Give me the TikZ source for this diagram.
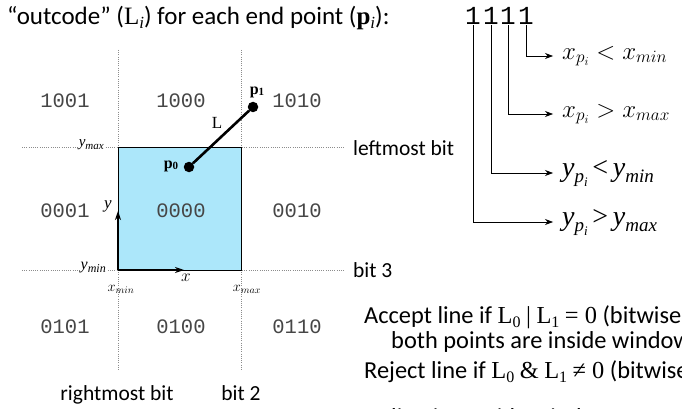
\documentclass[tikz,border=0pt]{standalone}
\usepackage{fontspec}
\setmainfont{Carlito}
\newfontfamily\tms{Liberation Serif}
\newfontfamily\mono{Liberation Mono}
\usetikzlibrary{arrows.meta}
\definecolor{winblue}{RGB}{172,231,250}
\definecolor{codegray}{RGB}{70,70,70}
% Times-style italic subscript helper: base letter, subscript, size, shift
\newcommand\tsub[4]{{\tms\itshape #1}\raisebox{#4}{\fontsize{#3}{#3}\selectfont\tms\itshape #2}}
\begin{document}
\begin{tikzpicture}[x=1pt,y=-1pt,
  grid/.style={black!45, line width=0.7pt, dash pattern=on 1pt off 1.2pt},
  code/.style={font=\mono\fontsize{20.5}{20}\selectfont, text=codegray, anchor=base, inner sep=0pt},
  lbl/.style={font=\fontsize{21.5}{24}\selectfont, inner sep=0pt},
  txt/.style={font=\fontsize{24.4}{26}\selectfont, inner sep=0pt, anchor=base west},
  bitdigit/.style={font=\mono\fontsize{26}{26}\selectfont, anchor=base, inner sep=0pt},
  result/.style={anchor=west, inner xsep=9pt, inner ysep=0pt},
  bitarrow/.style={-{Stealth[length=8pt,width=6pt]}, line width=0.7pt},
  axis/.style={-{Stealth[length=9pt,width=6pt]}, line width=1.1pt},
  enddot/.style={circle, fill=black, minimum size=10.5pt, inner sep=0pt},
  axlbl/.style={inner sep=1pt}]
\useasboundingbox (0,0) rectangle (682,409);
\clip (0,0) rectangle (682,409);

% clipping window
\coordinate (wsw) at (118,270);
\coordinate (wne) at (241,147);
\fill[winblue] (wsw) rectangle (wne);

% boundary lines of the nine regions
\draw[grid] (118,50) -- (118,370);
\draw[grid] (241,50) -- (241,370);
\draw[grid] (22,147) -- (345,147);
\draw[grid] (22,270) -- (345,270);
\draw[line width=0.8pt] (wsw) rectangle (wne);

% boundary labels
\node[axlbl, fill=white, anchor=east] (ymax) at (105,145) {\fontsize{15}{15}\selectfont\tsub{y}{max}{11}{-3pt}};
\node[axlbl, fill=white, anchor=east] (ymin) at (107,268) {\fontsize{16}{16}\selectfont\tsub{y}{min}{12}{-3pt}};
\node[axlbl] (xmin) at (121,289) {\fontsize{14.5}{14}\selectfont$x_{min}$};
\node[axlbl] (xmax) at (247,289) {\fontsize{14.5}{14}\selectfont$x_{max}$};

% window axes
\coordinate (yend) at (118,211);
\coordinate (xend) at (184,270);
\draw[axis] (wsw) -- (yend);
\draw[axis] (wsw) -- (xend);
\node[axlbl] (ylab) at (108,206) {\fontsize{17}{17}\selectfont\tms\itshape y};
\node[axlbl] (xlab) at (186,278) {\fontsize{17}{17}\selectfont$x$};

% region outcodes
\node[code] (c1001) at (65,108) {1001};
\node[code] (c1000) at (181,108) {1000};
\node[code] (c1010) at (297,108) {1010};
\node[code] (c0001) at (65,217) {0001};
\node[code] (c0000) at (181,217) {0000};
\node[code] (c0010) at (297,217) {0010};
\node[code] (c0101) at (65,333) {0101};
\node[code] (c0100) at (181,333) {0100};
\node[code] (c0110) at (297,333) {0110};

% line segment L
\node[enddot] (p0) at (189,167) {};
\node[enddot] (p1) at (253,107) {};
\draw[line width=2.6pt] (p0) -- (p1);
\node[axlbl] (p0lab) at (171,166) {\fontsize{16}{16}\selectfont{\tms\bfseries p}\raisebox{-1.5pt}{\fontsize{11}{11}\selectfont\tms\bfseries 0}};
\node[axlbl] (p1lab) at (257,92) {\fontsize{16}{16}\selectfont{\tms\bfseries p}\raisebox{-1.5pt}{\fontsize{11}{11}\selectfont\tms\bfseries 1}};
\node[axlbl] (Llab) at (217,123) {\fontsize{17}{17}\selectfont\tms L};

% bit names
\node[lbl, anchor=base west] (leftmost) at (353,155) {leftmost bit};
\node[lbl, anchor=base west] (bit3) at (353,277) {bit 3};
\node[lbl, anchor=base] (rightmost) at (117,400) {rightmost bit};
\node[lbl, anchor=base] (bit2) at (241,400) {bit 2};

% title and the four-bit code
\node[inner sep=0pt, anchor=base west] (title) at (7,25) {\fontsize{25}{30}\selectfont
  “outcode” ({\tms L}\raisebox{-4pt}{\fontsize{17}{17}\selectfont\tms\itshape i}) for each end point
  ({\tms\bfseries p}\raisebox{-4pt}{\fontsize{17}{17}\selectfont\tms\itshape i}):};
\node[bitdigit] (b1) at (473,25) {1};
\node[bitdigit] (b2) at (491,25) {1};
\node[bitdigit] (b3) at (508,25) {1};
\node[bitdigit] (b4) at (526,25) {1};

% meaning of each bit
\node[result] (r4) at (553,56) {\fontsize{26}{26}\selectfont$x_{p_i} < x_{min}$};
\node[result] (r3) at (553,114) {\fontsize{26}{26}\selectfont$x_{p_i} > x_{max}$};
\node[result] (r2) at (553,173) {\fontsize{28}{28}\selectfont\tsub{y}{p\raisebox{-4pt}{\fontsize{13}{13}\selectfont i}}{19}{-6pt}\,{\tms <}\,\tsub{y}{min}{19}{-6pt}};
\node[result] (r1) at (553,222) {\fontsize{28}{28}\selectfont\tsub{y}{p\raisebox{-4pt}{\fontsize{13}{13}\selectfont i}}{19}{-6pt}\,{\tms >}\,\tsub{y}{max}{19}{-6pt}};
\draw[bitarrow] (b4.south) |- (r4.west);
\draw[bitarrow] (b3.south) |- (r3.west);
\draw[bitarrow] (b2.south) |- (r2.west);
\draw[bitarrow] (b1.south) |- (r1.west);

% accept / reject rules
\node[txt] (acc) at (364,323) {Accept line if {\tms L}\raisebox{-4pt}{\fontsize{16}{16}\selectfont\tms 0} {\tms |} {\tms L}\raisebox{-4pt}{\fontsize{16}{16}\selectfont\tms 1} {\tms = 0} (bitwise OR):};
\node[txt] (acc2) at (391,348) {both points are inside window};
\node[txt] (rej) at (364,378) {Reject line if {\tms L}\raisebox{-4pt}{\fontsize{16}{16}\selectfont\tms 0} {\tms \&} {\tms L}\raisebox{-4pt}{\fontsize{16}{16}\selectfont\tms 1} {\tms ≠ 0} (bitwise AND):};
\node[txt] (rej2) at (391,425) {line is outside window};
\end{tikzpicture}
\end{document}
